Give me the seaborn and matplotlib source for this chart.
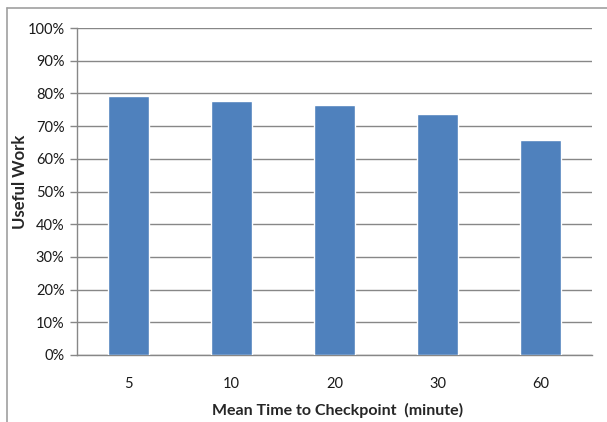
import matplotlib
matplotlib.use("Agg")
import matplotlib.pyplot as plt
import matplotlib.ticker as mticker
from matplotlib.lines import Line2D
import pandas as pd
import seaborn as sns

# Data
checkpoint_minutes = ["5", "10", "20", "30", "60"]
useful_work = [79.1, 77.8, 76.4, 73.7, 65.6]

bar_color = "#4F81BD"
grid_color = "#878787"
tick_fontsize = 10.5
label_fontsize = 11.5

sns.set_style("white")
plt.rcParams["font.family"] = ["Lato", "DejaVu Sans"]

df = pd.DataFrame({"minute": checkpoint_minutes, "work": useful_work})

fig = plt.figure(figsize=(6.07, 4.22), dpi=100)
ax = fig.add_axes([77 / 607, 67 / 422, (592 - 77) / 607, (355 - 28) / 422])

sns.barplot(data=df, x="minute", y="work", color=bar_color, width=0.4,
            saturation=1, ax=ax, zorder=3)

ax.set_ylim(0, 100)
ax.set_xlim(-0.5, len(checkpoint_minutes) - 0.5)
ax.yaxis.set_major_locator(mticker.MultipleLocator(10))
ax.yaxis.set_major_formatter(mticker.FuncFormatter(lambda v, p: f"{v:.0f}%"))
ax.grid(axis="y", color=grid_color, linewidth=1.0, zorder=0)
ax.set_axisbelow(True)

for side in ["top", "right"]:
    ax.spines[side].set_visible(False)
for side in ["left", "bottom"]:
    ax.spines[side].set_color(grid_color)
    ax.spines[side].set_linewidth(1.0)

ax.tick_params(axis="y", which="both", left=True, length=5, width=1.0,
               color=grid_color, labelsize=tick_fontsize, pad=4, labelcolor="#1a1a1a")
ax.tick_params(axis="x", bottom=False, labelsize=tick_fontsize, pad=12, labelcolor="#1a1a1a")

ax.set_ylabel("Useful Work", fontsize=12, fontweight="bold", va="center")
ax.set_xlabel("Mean Time to Checkpoint  (minute)", fontsize=label_fontsize,
              fontweight="bold", va="center")
ax.yaxis.set_label_coords(-0.111, 0.53)
ax.xaxis.set_label_coords(0.505, -0.171)

# Chart-area border (top and left edges visible in the reference)
fig.add_artist(Line2D([7 / 607, 1.0], [1 - 8 / 422, 1 - 8 / 422],
                      transform=fig.transFigure, color="#a0a0a0", linewidth=1.2))
fig.add_artist(Line2D([7 / 607, 7 / 607], [0.0, 1 - 8 / 422],
                      transform=fig.transFigure, color="#a0a0a0", linewidth=1.2))

fig.savefig("out.png", dpi=100)
